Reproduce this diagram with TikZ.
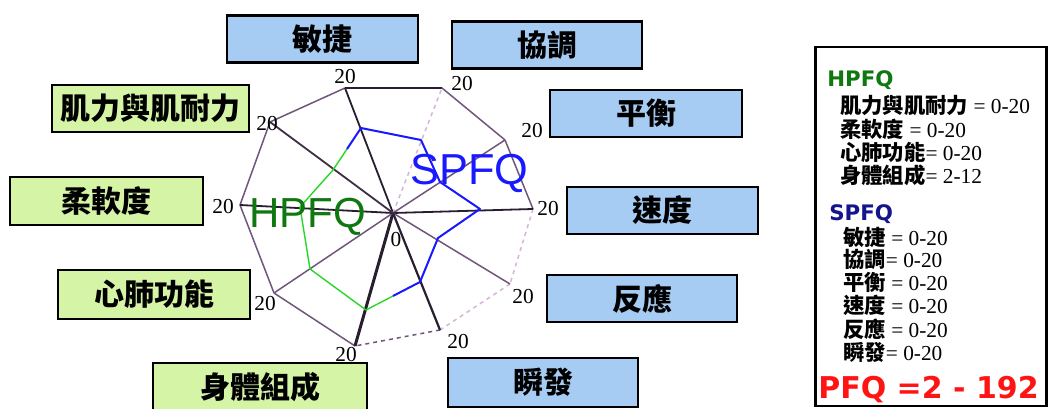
\documentclass[tikz,border=0pt]{standalone}
\usepackage{fontspec}
\usetikzlibrary{calc}
\setmainfont{Liberation Serif}
\newfontfamily\cjk{Noto Sans CJK TC}
\newfontfamily\plainsans{Liberation Sans}
\newfontfamily\heavysans{DejaVu Sans}
\newdimen\unitpx \unitpx=0.75pt
\definecolor{sblue}{RGB}{166,204,244}
\definecolor{hgreen}{RGB}{214,244,166}
\definecolor{rimdark}{RGB}{40,30,48}
\definecolor{rimmid}{RGB}{112,86,122}
\definecolor{rimlight}{RGB}{214,182,214}
\definecolor{hline}{RGB}{40,215,40}
\definecolor{sline}{RGB}{25,25,255}
\definecolor{htext}{RGB}{16,120,16}
\definecolor{snavy}{RGB}{20,20,140}
\definecolor{pfqred}{RGB}{255,20,20}
\newcommand\legendrow[2]{{\cjk\bfseries #1}#2}
\begin{document}
\begin{tikzpicture}[x=0.75pt,y=-0.75pt,
  catbox/.style={draw=black, line width=2.4\unitpx, inner sep=0pt,
    minimum height=47\unitpx, font=\cjk\bfseries\fontsize{22.5}{22.5}\selectfont},
  sbox/.style={catbox, fill=sblue},
  hbox/.style={catbox, fill=hgreen},
  tick/.style={inner sep=0pt, font=\fontsize{16}{16}\selectfont},
  edgedark/.style={draw=rimdark, line width=1.8\unitpx},
  edgemid/.style={draw=rimmid, line width=1.5\unitpx},
  edgelight/.style={draw=rimlight, line width=1.5\unitpx},
  spfqline/.style={draw=sline, line width=2\unitpx, line join=round},
  hpfqline/.style={draw=hline, line width=1.4\unitpx, line join=round},
  legend/.style={anchor=base west, inner sep=0pt, text height=14\unitpx, text depth=3\unitpx,
    font=\fontsize{16}{16}\selectfont},
  legendhead/.style={anchor=base west, inner sep=0pt, text height=15\unitpx, text depth=0pt,
    font=\heavysans\bfseries\fontsize{16}{16}\selectfont}
]
\path[use as bounding box, clip] (0,0) rectangle (1052,409);
\fill[white] (0,0) rectangle (1052,409);

% ---- radar frame: centre and the ten outer vertices ----
\coordinate (O) at (393,213);
\coordinate (v1) at (345,88);   % agility
\coordinate (v2) at (442,88);   % coordination
\coordinate (v3) at (505,140);  % balance
\coordinate (v4) at (533,209);  % speed
\coordinate (v5) at (510,284);  % reaction
\coordinate (v6) at (440,330);  % power
\coordinate (v7) at (355,346);  % body composition
\coordinate (v8) at (274,293);  % cardio
\coordinate (v9) at (240,205);  % flexibility
\coordinate (v10) at (270,122); % strength & endurance

% outer rim
\draw[edgedark] (v1) -- (v2);
\draw[edgemid] (v2) -- (v3);
\draw[edgemid] (v3) -- (v4);
\draw[edgelight, dashed] (v4) -- (v5);
\draw[edgelight, dashed] (v5) -- (v6);
\draw[edgemid, dashed] (v6) -- (v7);
\draw[edgemid] (v7) -- (v8);
\draw[edgemid] (v8) -- (v9);
\draw[edgemid] (v9) -- (v10);
\draw[edgemid] (v10) -- (v1);

% spokes
\draw[edgedark] (O) -- (v1);
\draw[edgelight, dashed] (O) -- (v2);
\draw[edgemid] (O) -- (v3);
\draw[edgedark] (O) -- (v4);
\draw[edgemid] (O) -- (v5);
\draw[edgedark, line width=2.2\unitpx] (O) -- (v6);
\draw[edgedark, line width=3\unitpx] (O) -- (v7);
\draw[edgemid] (O) -- (v8);
\draw[edgedark] (O) -- (v9);
\draw[edgedark, draw=rimdark!70!rimmid] (O) -- (v10);

% ---- score points on each spoke ----
\coordinate (p1) at (361,128);
\coordinate (p2) at (421,140);
\coordinate (p3) at (440,182);
\coordinate (p4) at (480,209);
\coordinate (p5) at (438,238);
\coordinate (p6) at (420,282);
\coordinate (p7) at (366,310);
\coordinate (p8) at (310,269);
\coordinate (p9) at (300,207);
\coordinate (p10) at (333,170);
\coordinate (m1) at ($(p6)!0.5!(p7)$);
\coordinate (m2) at ($(p10)!0.5!(p1)$);

\draw[hpfqline] (m1) -- (p7) -- (p8) -- (p9) -- (p10) -- (m2);
\draw[spfqline] (m2) -- (p1) -- (p2) -- (p3) -- (p4) -- (p5) -- (p6) -- (m1);

% scale labels
\node[tick] (t1) at (345,77) {20};
\node[tick] (t2) at (462,84) {20};
\node[tick] (t3) at (532,131) {20};
\node[tick] (t4) at (548,209) {20};
\node[tick] (t5) at (523,297) {20};
\node[tick] (t6) at (458,342) {20};
\node[tick] (t7) at (346,355) {20};
\node[tick] (t8) at (265,304) {20};
\node[tick] (t9) at (223,207) {20};
\node[tick] (t10) at (267,124) {20};
\node[tick] (t0) at (396,240) {0};

% group titles on the chart
\node[anchor=base west, inner sep=0pt, text=htext,
  font=\plainsans\fontsize{31.5}{31.5}\selectfont] (hpfq) at (249,228) {HPFQ};
\node[anchor=base west, inner sep=0pt, text=sline,
  font=\plainsans\fontsize{32.5}{32.5}\selectfont] (spfq) at (410,185) {SPFQ};

% ---- category boxes ----
\node[sbox, minimum width=191\unitpx] (agility) at (322.5,39) {敏捷};
\node[sbox, minimum width=190\unitpx] (coord) at (547,45) {協調};
\node[sbox, minimum width=192\unitpx] (balance) at (646,113.5) {平衡};
\node[sbox, minimum width=191\unitpx] (speed) at (662.5,210.5) {速度};
\node[sbox, minimum width=190\unitpx] (reaction) at (642,298.5) {反應};
\node[sbox, minimum width=190\unitpx, minimum height=49\unitpx] (power) at (543,382.5) {瞬發};
\node[hbox, minimum width=197\unitpx] (strength) at (150.5,108.5) {肌力與肌耐力};
\node[hbox, minimum width=193\unitpx, minimum height=48\unitpx] (flex) at (106.5,201) {柔軟度};
\node[hbox, minimum width=192\unitpx, minimum height=49\unitpx] (cardio) at (154,294.5) {心肺功能};
\node[hbox, minimum width=214\unitpx, minimum height=49\unitpx] (body) at (260,387.5) {身體組成};

% ---- legend panel ----
\node[draw=black, line width=2.2\unitpx, minimum width=231\unitpx, minimum height=359\unitpx,
  inner sep=0pt] (panel) at (931,226.5) {};
\node[legendhead, text=htext] (lh) at (827,87) {HPFQ};
\node[legend] (l1) at (840,114) {\legendrow{肌力與肌耐力}{ = 0-20}};
\node[legend] (l2) at (840,138) {\legendrow{柔軟度}{ = 0-20}};
\node[legend] (l3) at (840,161) {\legendrow{心肺功能}{= 0-20}};
\node[legend] (l4) at (840,184) {\legendrow{身體組成}{= 2-12}};
\node[legendhead, text=snavy] (ls) at (829,221) {SPFQ};
\node[legend] (s1) at (843,246) {\legendrow{敏捷}{ = 0-20}};
\node[legend] (s2) at (843,268) {\legendrow{協調}{= 0-20}};
\node[legend] (s3) at (843,291) {\legendrow{平衡}{ = 0-20}};
\node[legend] (s4) at (843,314) {\legendrow{速度}{ = 0-20}};
\node[legend] (s5) at (843,337) {\legendrow{反應}{ = 0-20}};
\node[legend] (s6) at (843,360) {\legendrow{瞬發}{= 0-20}};
\node[anchor=base west, inner sep=0pt, text=pfqred,
  font=\heavysans\bfseries\fontsize{22.5}{22.5}\selectfont] (pfq) at (818,398) {PFQ =2 - 192};
\end{tikzpicture}
\end{document}
